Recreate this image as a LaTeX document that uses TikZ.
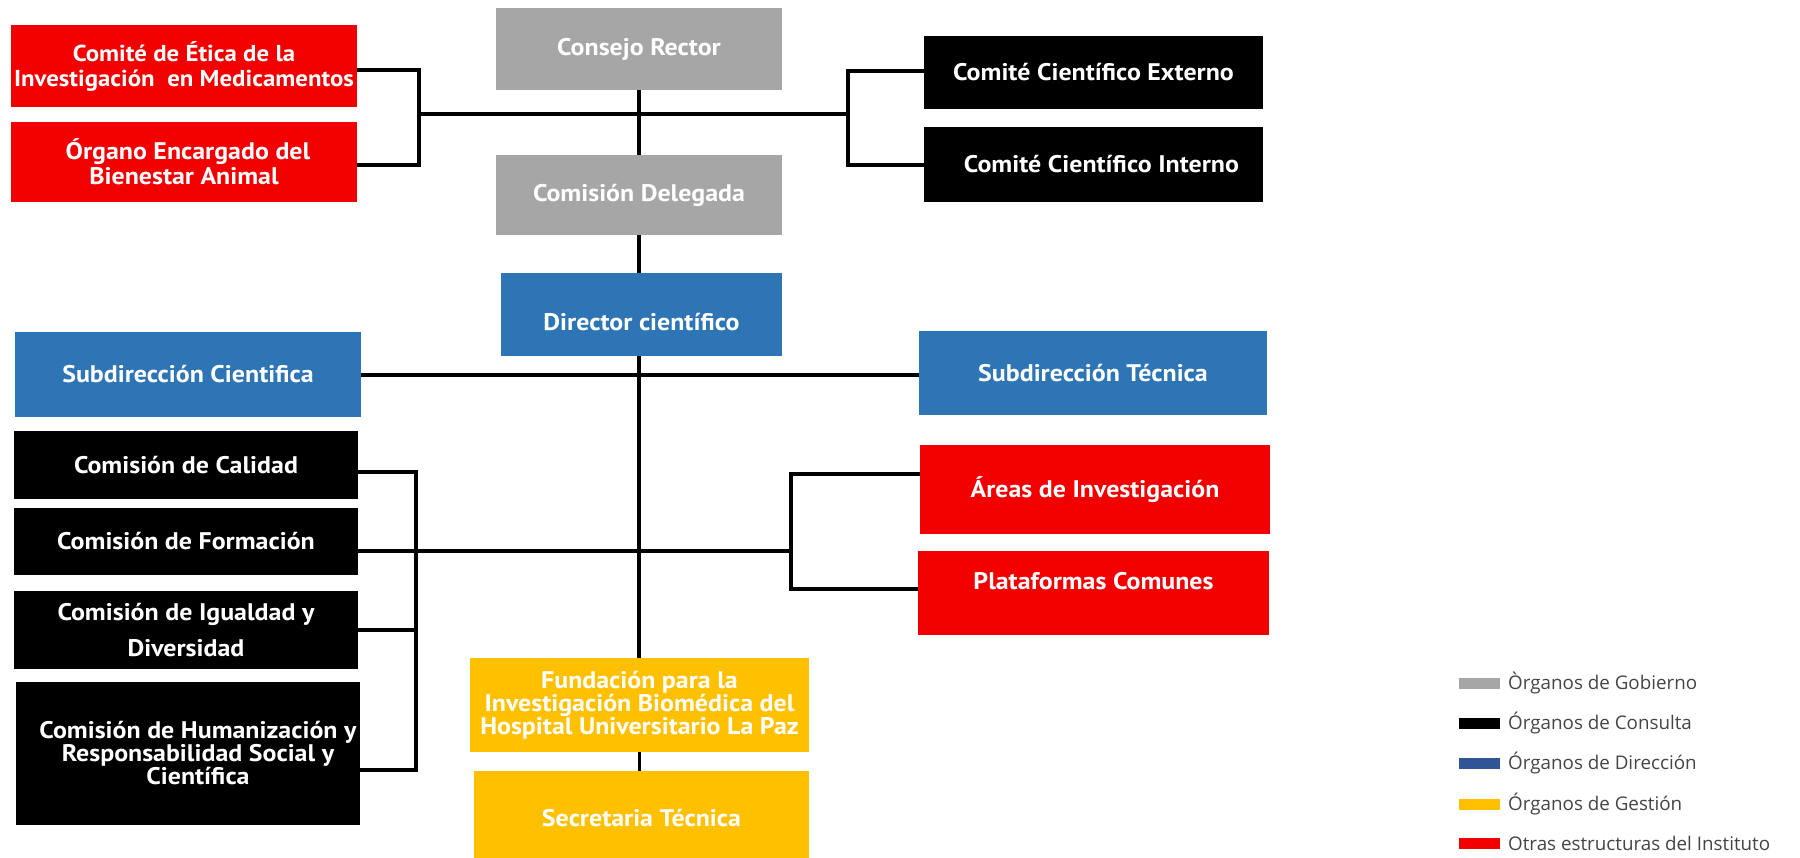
\documentclass[tikz,border=0pt]{standalone}
\usepackage{fontspec}
\newfontfamily\boxfont{PT Sans}[FakeStretch=1.08]
\newfontfamily\legfont{Open Sans}
\definecolor{cgray}{HTML}{A6A6A6}
\definecolor{cred}{HTML}{F20000}
\definecolor{cblue}{HTML}{2E75B6}
\definecolor{cgold}{HTML}{FFC000}
\definecolor{cdblue}{HTML}{2F5597}
\definecolor{legtext}{HTML}{454545}
\tikzset{
  box/.style={rectangle, inner sep=0pt, text=white, align=center,
    font=\boxfont\bfseries\fontsize{24}{25}\selectfont},
  graybox/.style={box, fill=cgray},
  redbox/.style={box, fill=cred},
  bluebox/.style={box, fill=cblue},
  blackbox/.style={box, fill=black},
  goldbox/.style={box, fill=cgold},
  conn/.style={draw=black, line width=4pt},
  vconn/.style={draw=black, line width=3.5pt},
  swatch/.style={rectangle, inner sep=0pt, minimum width=41pt, minimum height=11pt},
  legtxt/.style={anchor=west, inner sep=0pt, text=legtext, font=\legfont\fontsize{18.8}{20}\selectfont}
}
\begin{document}
\begin{tikzpicture}[x=1pt,y=-1pt]
\useasboundingbox (0,0) rectangle (1800,858);
\fill[white] (0,0) rectangle (1800,858);
% nodes
\node[graybox, minimum width=286pt, minimum height=82pt] (consejo) at (639,49) {Consejo Rector};
\node[graybox, minimum width=286pt, minimum height=80pt] (delegada) at (639,195) {Comisión Delegada};
\node[redbox, minimum width=346pt, minimum height=82pt, font=\boxfont\bfseries\fontsize{23}{25}\selectfont] (etica) at (184,66) {Comité de Ética de la\\Investigación\ \ en Medicamentos};
\node[redbox, minimum width=346pt, minimum height=80pt] (organo) at (184,162) {\hspace*{8pt}Órgano Encargado del\\Bienestar Animal};
\node[blackbox, minimum width=339pt, minimum height=73pt] (externo) at (1093.5,72.5) {Comité Científico Externo};
\node[blackbox, minimum width=339pt, minimum height=75pt] (interno) at (1093.5,164.5) {\hspace{16pt}Comité Científico Interno};
\node[bluebox, minimum width=281pt, minimum height=83pt] (director) at (641.5,314.5) {\mbox{}\\[7pt]Director científico};
\node[bluebox, minimum width=346pt, minimum height=85pt] (subcient) at (188,374.5) {Subdirección Cientifica};
\node[bluebox, minimum width=348pt, minimum height=84pt] (subtec) at (1093,373) {Subdirección Técnica};
\node[blackbox, minimum width=344pt, minimum height=68pt] (calidad) at (186,465) {Comisión de Calidad};
\node[blackbox, minimum width=344pt, minimum height=67pt] (formacion) at (186,541.5) {Comisión de Formación};
\node[blackbox, minimum width=344pt, minimum height=78pt, font=\boxfont\bfseries\fontsize{24}{36}\selectfont] (igualdad) at (186,630) {Comisión de Igualdad y\\Diversidad};
\node[blackbox, minimum width=344pt, minimum height=143pt, font=\boxfont\bfseries\fontsize{24}{23}\selectfont] (humaniz) at (188,753.5) {\hspace*{20pt}Comisión de Humanización y\\\hspace*{20pt}Responsabilidad Social y\\\hspace*{20pt}Científica};
\node[redbox, minimum width=350pt, minimum height=89pt] (areas) at (1095,489.5) {Áreas de Investigación};
\node[redbox, minimum width=351pt, minimum height=84pt] (plataformas) at (1093.5,593) {Plataformas Comunes\\\mbox{}};
\node[goldbox, minimum width=339pt, minimum height=94pt, font=\boxfont\bfseries\fontsize{24}{23}\selectfont] (fundacion) at (639.5,705) {Fundación para la\\Investigación Biomédica del\\Hospital Universitario La Paz};
\node[goldbox, minimum width=335pt, minimum height=87pt] (secretaria) at (641.5,814.5) {\mbox{}\\[-1pt]Secretaria Técnica};
% junction coordinates
\coordinate (tl) at (419,114);
\coordinate (tr) at (848,114);
\coordinate (bl) at (416,551);
\coordinate (br) at (791,551);
% central spine
\draw[vconn] (consejo.south) -- (delegada.north);
\draw[vconn] (delegada.south) -- (delegada.south |- director.north);
\draw[vconn] (delegada.south |- director.south) -- (delegada.south |- fundacion.north);
\draw[vconn] (fundacion.south) -- (fundacion.south |- secretaria.north);
% top brackets
\draw[conn] (tl) -- (tr);
\draw[conn] (etica.east |- 0,70) -| (tl |- 0,70) -- (tl |- 0,165) -- (organo.east |- 0,165);
\draw[conn] (externo.west |- 0,71) -| (tr |- 0,71) -- (tr |- 0,165) -- (interno.west |- 0,165);
% subdirecciones
\draw[conn] (subcient.east |- 0,375) -- (subtec.west |- 0,375);
% lower brackets
\draw[conn] (calidad.east |- 0,472) -| (bl |- 0,472) -- (bl |- 0,770) -- (humaniz.east |- 0,770);
\draw[conn] (igualdad.east |- 0,630) -- (bl |- 0,630);
\draw[conn] (formacion.east |- bl) -- (br);
\draw[conn] (areas.west |- 0,474) -| (br |- 0,474) -- (br |- 0,589) -- (plataformas.west |- 0,589);
% legend
\node[swatch, fill=cgray] (s1) at (1479,683) {};
\node[swatch, fill=black] (s2) at (1479,723) {};
\node[swatch, fill=cdblue] (s3) at (1479,763) {};
\node[swatch, fill=cgold] (s4) at (1479,804) {};
\node[swatch, fill=cred] (s5) at (1479,843) {};
\node[legtxt] (l1) at (1508,683) {Òrganos de Gobierno};
\node[legtxt] (l2) at (1508,723) {Órganos de Consulta};
\node[legtxt] (l3) at (1508,763) {Órganos de Dirección};
\node[legtxt] (l4) at (1508,804) {Órganos de Gestión};
\node[legtxt] (l5) at (1508,843) {Otras estructuras del Instituto};
\end{tikzpicture}
\end{document}
